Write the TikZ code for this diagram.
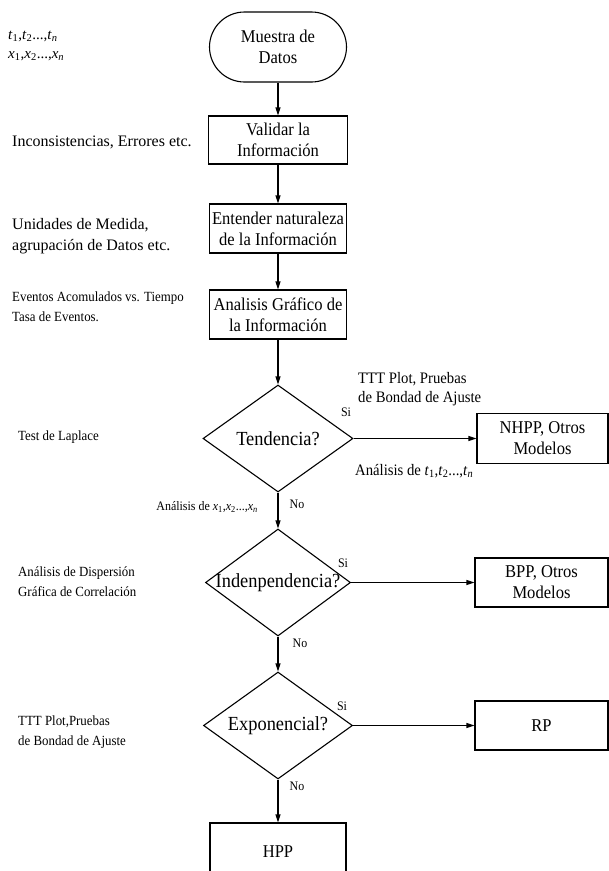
\documentclass[tikz,border=0pt]{standalone}
\usepackage{fontspec}
\usepackage{tikz}
\usetikzlibrary{arrows.meta,positioning,shapes.geometric}
\setmainfont{Liberation Serif}
\newfontfamily\narrowserif[FakeStretch=0.92]{Liberation Serif}
\definecolor{flowInk}{RGB}{0,0,0}
\newcommand{\sampleseq}[1]{\textit{#1}\textsubscript{1},\textit{#1}\textsubscript{2}...,\textit{#1}\textsubscript{\textit{n}}}

\begin{document}
\begin{tikzpicture}[x=1pt, y=-1pt,
  every node/.style={inner sep=0pt, text=flowInk},
  term/.style={draw=flowInk, line width=1.1pt, rounded corners=35pt, minimum width=137pt, minimum height=70pt, align=center, font=\fontsize{18}{21}\narrowserif},
  proc/.style={draw=flowInk, line width=1.1pt, minimum width=139pt, minimum height=48pt, align=center, font=\fontsize{18}{21}\narrowserif},
  decision/.style={draw=flowInk, diamond, line width=1.1pt, minimum width=150pt, minimum height=107pt},
  dtext/.style={font=\fontsize{20}{22}\narrowserif},
  note/.style={anchor=west, align=left, font=\fontsize{16}{21}\selectfont},
  smallnote/.style={anchor=west, align=left, font=\fontsize{14}{20}\narrowserif},
  rnote/.style={anchor=west, align=left, font=\fontsize{16}{19}\narrowserif},
  yesno/.style={font=\fontsize{13}{14}\narrowserif},
  flow/.style={draw=flowInk, line width=1.1pt, -{Triangle[length=8pt,width=5pt]}}
]
\useasboundingbox (0,0) rectangle (609,871);
\clip (0,0) rectangle (609,871);

% main column
\node[term] (muestra) at (278,47) {Muestra de\\Datos};
\node[proc] (validar) at (278,140) {Validar la\\Información};
\node[proc, minimum width=137pt, minimum height=49pt] (entender) at (278,228.5) {Entender naturaleza\\de la Información};
\node[proc, minimum width=137pt, minimum height=49pt] (grafico) at (278,314.5) {Analisis Gráfico de\\la Información};
\node[decision] (tend) at (278,438.5) {};
\node[dtext] (tendtxt) at (tend) {Tendencia?};
\node[decision, minimum width=145pt] (indep) at (278,582.5) {};
\node[dtext] (indeptxt) at (indep) {Indenpendencia?};
\node[decision, minimum width=149pt] (expo) at (278,725.5) {};
\node[dtext] (expotxt) at (expo) {Exponencial?};
\node[proc, minimum width=136pt, minimum height=58pt] (hpp) at (278,852) {HPP};

% right column
\node[proc, minimum width=131pt, minimum height=50pt] (nhpp) at (542.5,438.5) {NHPP, Otros\\Modelos};
\node[proc, minimum width=133pt, minimum height=49pt] (bpp) at (541.5,582.5) {BPP, Otros\\Modelos};
\node[proc, minimum width=133pt, minimum height=49pt] (rp) at (541.5,725.5) {RP};

\draw[flow] (muestra) -- (validar);
\draw[flow] (validar) -- (entender);
\draw[flow] (entender) -- (grafico);
\draw[flow] (grafico) -- (tend.north);
\draw[flow] (tend.south) -- (indep.north);
\draw[flow] (indep.south) -- (expo.north);
\draw[flow] (expo.south) -- (hpp);
\draw[flow] (tend.east) -- (nhpp);
\draw[flow] (indep.east) -- (bpp);
\draw[flow] (expo.east) -- (rp);

% branch labels
\node[yesno] (si1) at (346,412) {Si};
\node[yesno] (no1) at (297,504) {No};
\node[yesno] (si2) at (343,563) {Si};
\node[yesno] (no2) at (300,643) {No};
\node[yesno] (si3) at (342,706) {Si};
\node[yesno] (no3) at (297,786) {No};

% notes
\node[note, font=\fontsize{15}{20}\selectfont] (tser) at (8,36) {\sampleseq{t}};
\node[note, font=\fontsize{15}{20}\selectfont] (xser) at (8,56) {\sampleseq{x}};
\node[note] (incons) at (12,142) {Inconsistencias, Errores etc.};
\node[note] (unidades) at (12,236) {Unidades de Medida,\\agrupación de Datos etc.};
\node[smallnote] (eventos) at (12,307) {Eventos Acomulados vs. Tiempo\\Tasa de Eventos.};
\node[smallnote] (laplace) at (18,437) {Test de Laplace};
\node[smallnote] (dispersion) at (18,582) {Análisis de Dispersión\\Gráfica de Correlación};
\node[smallnote] (tttleft) at (18,732) {TTT Plot,Pruebas\\de Bondad de Ajuste};
\node[rnote] (tttright) at (358,389) {TTT Plot, Pruebas\\de Bondad de Ajuste};
\node[rnote] (tanal) at (355,471) {Análisis de \sampleseq{t}};
\node[anchor=east, font=\fontsize{13}{14}\narrowserif] (xanal) at (258,507) {Análisis de \sampleseq{x}};
\end{tikzpicture}
\end{document}
